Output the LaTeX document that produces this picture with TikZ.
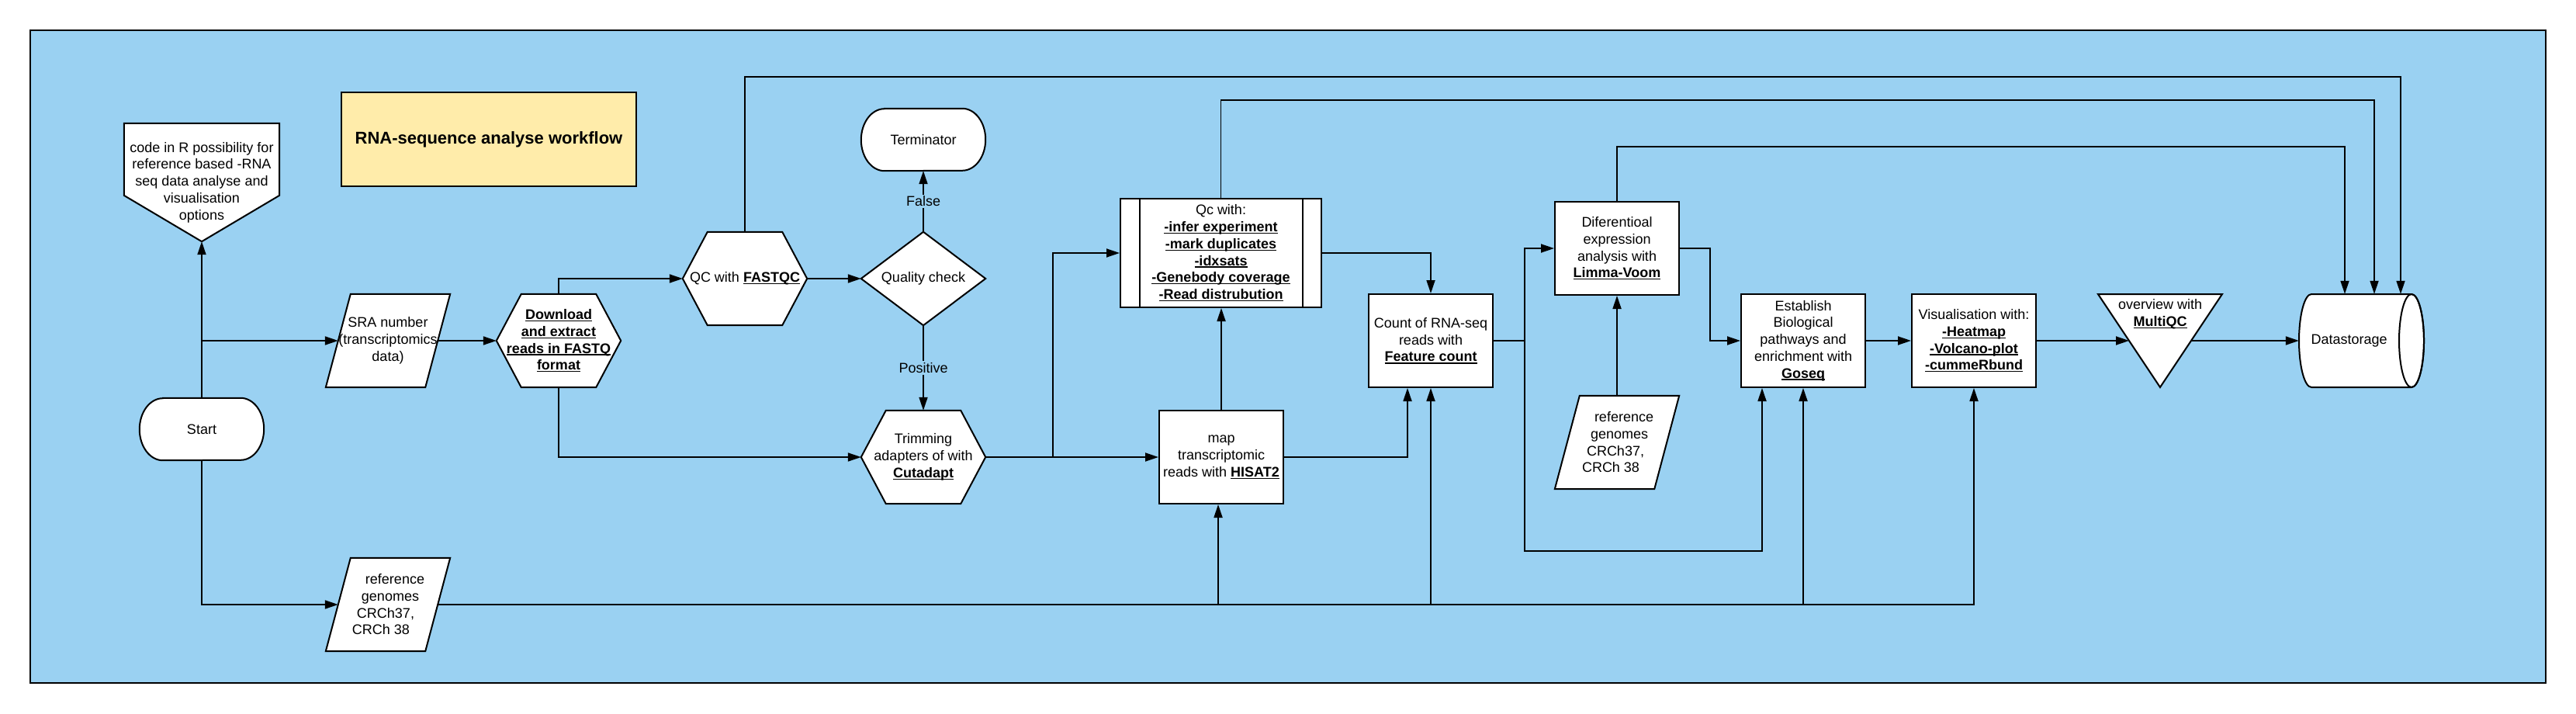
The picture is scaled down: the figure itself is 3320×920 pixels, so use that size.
\documentclass[tikz,border=0pt]{standalone}
\usepackage{fontspec}
\setmainfont{Liberation Sans}
\usetikzlibrary{arrows.meta,calc}
\definecolor{bgblue}{HTML}{9AD1F2}
\definecolor{titley}{HTML}{FFECAA}
\newsavebox\ulbox
\newcommand\ul[1]{\sbox\ulbox{#1}\rlap{\rule[-2.6pt]{\wd\ulbox}{1.3pt}}\usebox\ulbox}
\pgfdeclarelayer{bg}\pgfdeclarelayer{shp}\pgfsetlayers{bg,shp,main}
\tikzset{
  txt/.style={inner sep=0pt, align=center, font=\fontsize{18}{21.7}\selectfont},
  sized/.style 2 args={txt, minimum width=#1pt, minimum height=#2pt},
  box/.style={txt, draw, fill=white, line width=2pt, minimum width=160pt, minimum height=120pt},
  outl/.style={draw, fill=white, line width=2pt, line join=miter},
  conn/.style={line width=1.8pt},
  arr/.style={conn, -{Triangle[length=17pt,width=11pt]}},
  lbl/.style={txt, fill=bgblue, inner sep=2pt}
}
\newcommand\hexa[1]{\path[outl] ($(#1.north west)+(32,0)$) -- ($(#1.north east)+(-32,0)$) -- (#1.east) -- ($(#1.south east)+(-32,0)$) -- ($(#1.south west)+(32,0)$) -- (#1.west) -- cycle;}
\newcommand\para[1]{\path[outl] ($(#1.north west)+(32,0)$) -- (#1.north east) -- ($(#1.south east)+(-32,0)$) -- (#1.south west) -- cycle;}
\newcommand\stad[1]{\path[outl] ($(#1.north west)+(30,0)$) -- ($(#1.north east)+(-30,0)$) arc[start angle=90, end angle=-90, x radius=30pt, y radius=40pt] -- ($(#1.south west)+(30,0)$) arc[start angle=270, end angle=90, x radius=30pt, y radius=40pt] -- cycle;}
\begin{document}
\begin{tikzpicture}[x=1pt,y=-1pt]
\useasboundingbox (0,0) rectangle (3320,920);
\begin{pgfonlayer}{bg}
\draw[fill=bgblue, line width=2.2pt] (39,39) rectangle (3281,880);
\end{pgfonlayer}

% nodes
\node[txt, draw, fill=titley, line width=2pt, minimum width=380pt, minimum height=121pt, font=\fontsize{22}{26}\selectfont\bfseries] (title) at (630,179.5) {RNA-sequence analyse workflow};
\node[sized={200}{152}] (code) at (260,235) {code in R possibility for\\reference based -RNA\\seq data analyse and\\visualisation\\options};
\node[sized={160}{80}] (start) at (260,553) {Start};
\node[sized={160}{120}] (sra) at (500,439) {SRA number\\(transcriptomics\\data)};
\node[sized={160}{120}] (ref1) at (500,779) {\hbox{\kern18pt reference}\\\hbox{\kern6pt genomes}\\\hbox{CRCh37,\kern6pt}\\\hbox{CRCh 38\kern18pt}};
\node[sized={160}{120}] (dl) at (720,439) {\ul{\textbf{Download}}\\\ul{\textbf{and extract}}\\\ul{\textbf{reads in FASTQ}}\\\ul{\textbf{format}}};
\node[sized={160}{120}] (qcf) at (960,359) {QC with \ul{\textbf{FASTQC}}};
\node[sized={160}{120}] (qchk) at (1190,359) {Quality check};
\node[sized={160}{80}] (term) at (1190,180) {Terminator};
\node[sized={160}{120}] (trim) at (1190,589) {Trimming\\adapters of with\\\ul{\textbf{Cutadapt}}};
\node[box, minimum width=259pt, minimum height=140pt] (qcb) at (1573.5,326) {Qc with:\\\ul{\textbf{-infer experiment}}\\\ul{\textbf{-mark duplicates}}\\\ul{\textbf{-idxsats}}\\\ul{\textbf{-Genebody coverage}}\\\ul{\textbf{-Read distrubution}}};
\draw[line width=2pt] ($(qcb.north west)+(26,0)$) -- ($(qcb.south west)+(26,0)$);
\draw[line width=2pt] ($(qcb.north east)+(-25,0)$) -- ($(qcb.south east)+(-25,0)$);
\node[box] (map) at (1574,589) {map\\transcriptomic\\reads with \ul{\textbf{HISAT2}}};
\node[box] (count) at (1844,439) {Count of RNA-seq\\reads with\\\ul{\textbf{Feature count}}};
\node[box] (diff) at (2084,320) {Diferentioal\\expression\\analysis with\\\ul{\textbf{Limma-Voom}}};
\node[sized={160}{120}] (ref2) at (2084,570) {\hbox{\kern18pt reference}\\\hbox{\kern6pt genomes}\\\hbox{CRCh37,\kern4pt}\\\hbox{CRCh 38\kern16pt}};
\node[box] (est) at (2324,439) {Establish\\Biological\\pathways and\\enrichment with\\\ul{\textbf{Goseq}}};
\node[box] (vis) at (2544,439) {Visualisation with:\\\ul{\textbf{-Heatmap}}\\\ul{\textbf{-Volcano-plot}}\\\ul{\textbf{-cummeRbund}}};
\node[txt] (tri) at (2784,405) {overview with\\\ul{\textbf{MultiQC}}};
\node[sized={129}{120}] (ds) at (3027.5,439) {Datastorage};
\coordinate (tril) at (2744,439);
\coordinate (trir) at (2824,439);

% shapes
\begin{pgfonlayer}{shp}
\path[outl] (code.north west) -- (code.north east) -- ($(code.north east)+(0,93)$) -- (code.south) -- ($(code.north west)+(0,93)$) -- cycle;
\stad{start}
\stad{term}
\para{sra}
\para{ref1}
\para{ref2}
\hexa{dl}
\hexa{qcf}
\hexa{trim}
\path[outl] (qchk.north) -- (qchk.east) -- (qchk.south) -- (qchk.west) -- cycle;
\path[outl] (2704,379) -- (2864,379) -- (2784,499) -- cycle;
\path[outl] (3108,379) -- (2979,379) arc[start angle=90, end angle=270, x radius=16pt, y radius=60pt] -- (3108,499) arc[start angle=-90, end angle=90, x radius=16pt, y radius=60pt] -- cycle;
\draw[line width=2pt] (3108,439) ellipse [x radius=16pt, y radius=60pt];
\end{pgfonlayer}

% connectors
\draw[arr] (start.north) -- (code.south);
\draw[arr] (start.north |- sra.west) -- ($(sra.west)+(16,0)$);
\draw[arr] ($(sra.east)+(-16,0)$) -- (dl.west);
\draw[arr] (dl.north) |- (qcf.west);
\draw[arr] (dl.south) |- (trim.west);
\draw[arr] (start.south) |- ($(ref1.west)+(16,0)$);
\draw[arr] (qcf.east) -- (qchk.west);
\draw[arr] (qchk.north) -- node[lbl]{False} (term.south);
\draw[arr] (qchk.south) -- node[lbl]{Positive} (trim.north);
\draw[arr] (trim.east) -- (map.west);
\coordinate (b1) at (1357,589);
\draw[arr] (b1) |- (qcb.west);
\draw[arr] (map.north) -- (map.north |- qcb.south);
\draw[arr] ($(ref1.east)+(-16,0)$) -| (vis.south);
\draw[arr] ($(map.south |- ref1.east)+(-4,0)$) -- ($(map.south)+(-4,0)$);
\draw[arr] (count.south |- ref1.east) -- (count.south);
\draw[arr] (est.south |- ref1.east) -- (est.south);
\draw[arr] (map.east) -| ($(count.south)+(-30,0)$);
\draw[arr] (qcb.east) -| (count.north);
\coordinate (c1) at (1965,439);
\coordinate (c2) at (1965,710);
\draw[arr] (count.east) -- (c1) |- (diff.west);
\draw[arr] (c1) -- (c2) -| ($(est.south)+(-53,0)$);
\coordinate (d1) at (2204,320);
\draw[arr] (diff.east) -- (d1) |- (est.west);
\draw[arr] (ref2.north) -- (diff.south);
\draw[arr] (est.east) -- (vis.west);
\draw[arr] (vis.east) -- (tril);
\draw[arr] (trir) -- (ds.west);
\coordinate (t1) at (3094,99);
\coordinate (t2) at (3060,129);
\coordinate (t3) at (3022,189);
\draw[arr] (qcf.north) |- (t1) -- (t1 |- ds.north);
\draw[arr] (qcb.north) |- (t2) -- (t2 |- ds.north);
\draw[arr] (diff.north) |- (t3) -- (t3 |- ds.north);
\end{tikzpicture}
\end{document}
